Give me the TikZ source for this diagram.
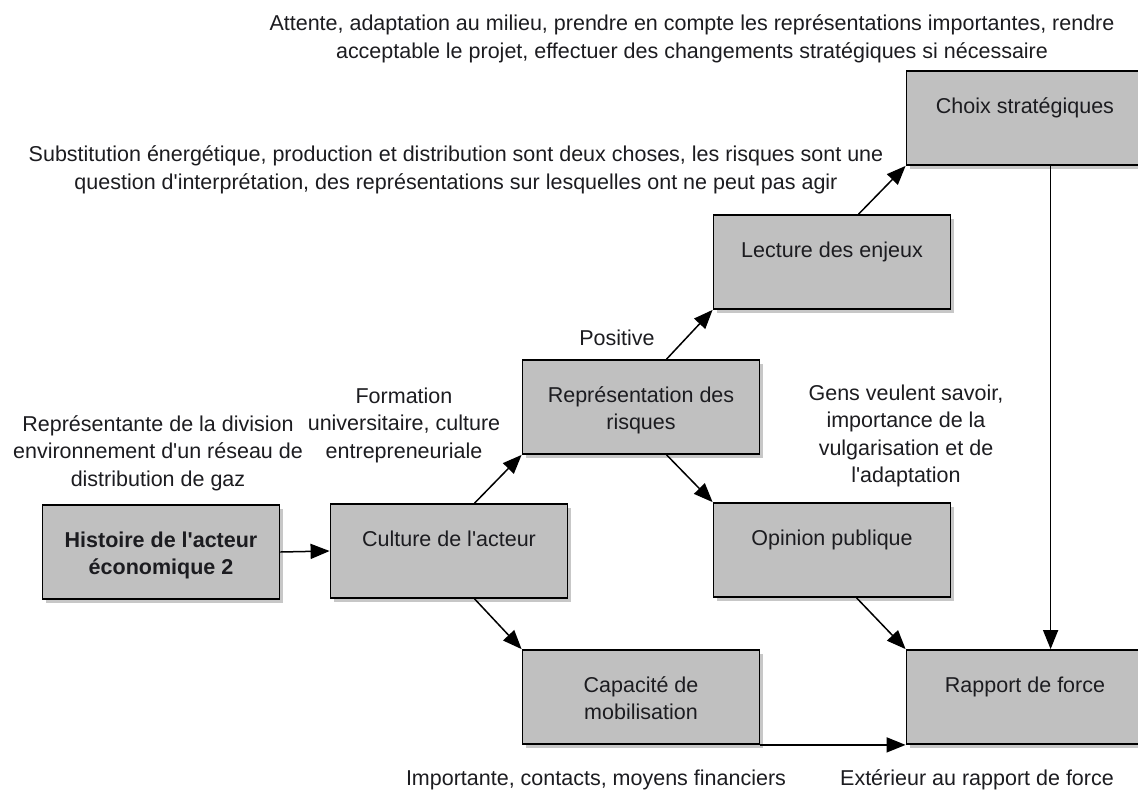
\documentclass[tikz,border=0pt]{standalone}
\usepackage{fontspec}
\setmainfont{Liberation Sans}
\usetikzlibrary{arrows.meta,shadows,calc}
\newcommand\diagfont{\fontsize{21.5}{27.5}\selectfont}
\newcommand\ap{\textquotesingle}
\definecolor{boxgray}{RGB}{192,192,192}
\definecolor{inkgray}{RGB}{28,28,32}
% grey box with its caption hung from the top: first baseline 5pt above the centre
\newcommand\diagbox[4][]{%
  \node[box] (#2) at (#3) {};
  \node[boxlabel, #1] (#2-t) at ($(#2.center)+(0,-25)$) {\rule{0pt}{20pt}#4};}
\begin{document}
\begin{tikzpicture}[x=1pt,y=-1pt,
  box/.style={draw=black, line width=1.8pt, fill=boxgray, minimum width=237pt,
    minimum height=94pt, inner sep=0pt,
    drop shadow={shadow xshift=3pt, shadow yshift=-4pt, fill=black, opacity=0.22}},
  boxlabel/.style={anchor=north, align=center, font=\diagfont, text=inkgray, inner sep=0pt},
  note/.style={align=center, font=\diagfont, text=inkgray, inner sep=0pt},
  link/.style={line width=1.5pt, -{Triangle[length=19pt,width=15pt]}}]
\useasboundingbox[fill=white] (0,0) rectangle (1138,793);

% boxes
\diagbox[font=\diagfont\bfseries]{hist}{161,552}{Histoire de l\ap acteur\\économique 2}
\diagbox{cult}{449,551}{Culture de l\ap acteur}
\diagbox{rep}{641,407}{Représentation des\\risques}
\diagbox{lect}{832,262}{Lecture des enjeux}
\diagbox{choix}{1025,118}{Choix stratégiques}
\diagbox{opin}{832,550}{Opinion publique}
\diagbox{capa}{641,697}{Capacité de\\mobilisation}
\diagbox{rapp}{1025,697}{Rapport de force}

% arrow tails on the box edges
\coordinate (cultN) at ($(cult.north west)+(145,0)$);
\coordinate (cultS) at ($(cult.south west)+(145,0)$);
\coordinate (repN)  at ($(rep.north west)+(145,0)$);
\coordinate (repS)  at ($(rep.south west)+(145,0)$);
\coordinate (lectN) at ($(lect.north west)+(146,0)$);
\coordinate (opinS) at ($(opin.south west)+(144,0)$);
\coordinate (choixS) at ($(choix.south west)+(145,0)$);
\coordinate (rappN) at ($(rapp.north west)+(145,0)$);

% connectors
\draw[link] (hist.east) -- (cult.west);
\draw[link] (cultN) -- (rep.south west);
\draw[link] (cultS) -- (capa.north west);
\draw[link] (repN) -- (lect.south west);
\draw[link] (repS) -- (opin.north west);
\draw[link] (lectN) -- (choix.south west);
\draw[link] (opinS) -- (rapp.north west);
\draw[link] (choixS) -- (rappN);
\draw[link] (capa.south east) -- (rapp.south west);

% annotations
\node[note] (tTop) at (692,39) {Attente, adaptation au milieu, prendre en compte les représentations importantes, rendre\\acceptable le projet, effectuer des changements stratégiques si nécessaire};
\node[note] (tSub) at (456,170) {Substitution énergétique, production et distribution sont deux choses, les risques sont une\\question d\ap interprétation, des représentations sur lesquelles ont ne peut pas agir};
\node[note] (tPos) at (617,338) {Positive};
\node[note] (tForm) at (404,425) {Formation\\universitaire, culture\\entrepreneuriale};
\node[note] (tRep) at (158,453) {Représentante de la division\\environnement d\ap un réseau de\\distribution de gaz};
\node[note] (tGens) at (906,436) {Gens veulent savoir,\\importance de la\\vulgarisation et de\\l\ap adaptation};
\node[note] (tImp) at (596,780) {Importante, contacts, moyens financiers};
\node[note] (tExt) at (977,780) {Extérieur au rapport de force};
\end{tikzpicture}
\end{document}
